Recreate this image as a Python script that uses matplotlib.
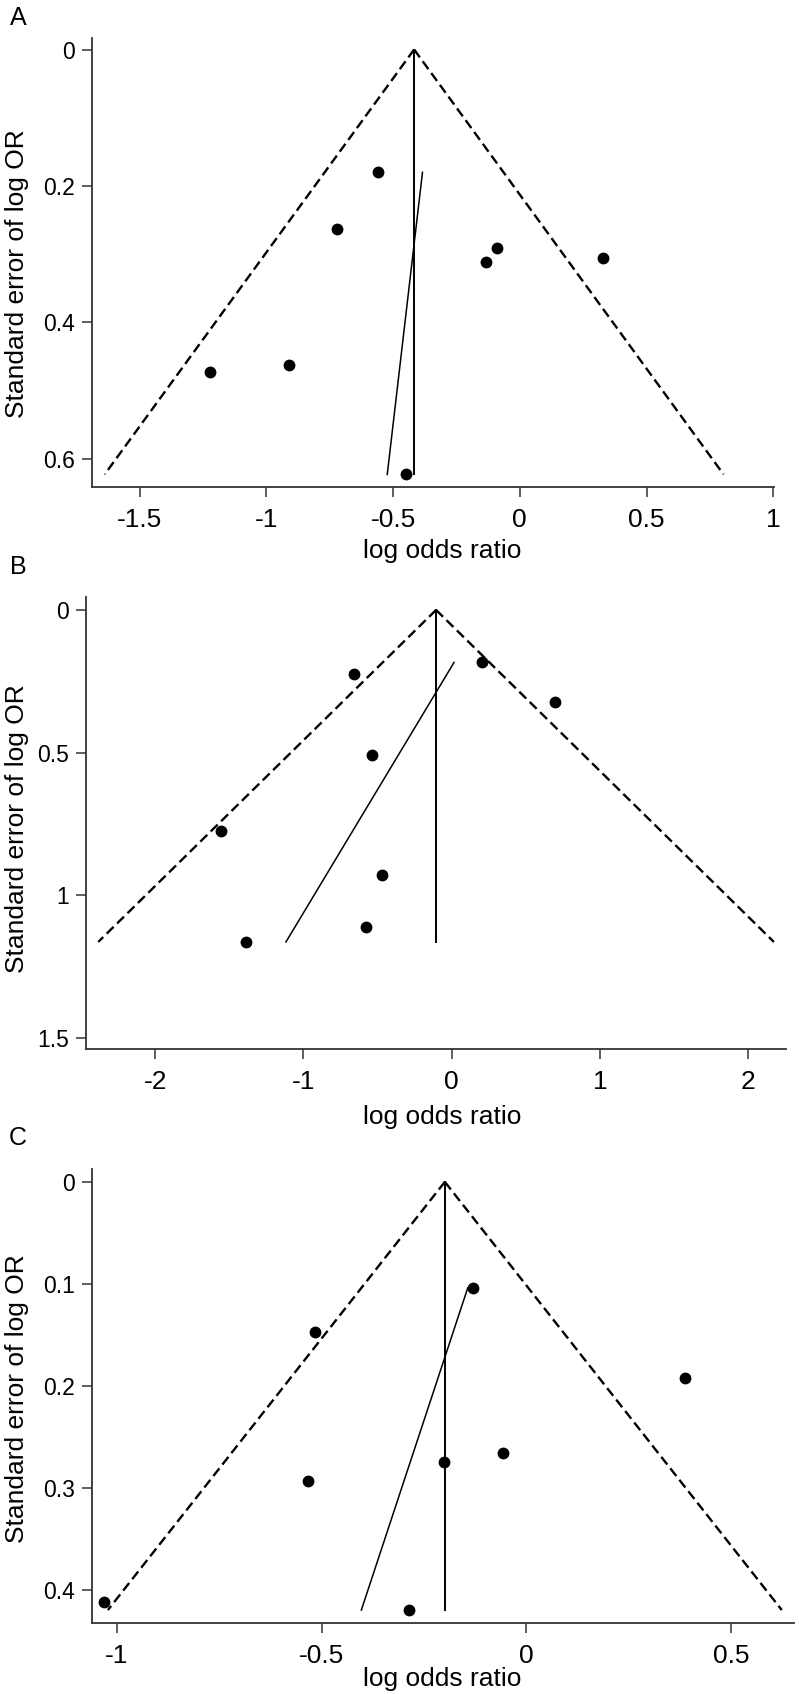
import matplotlib
matplotlib.use('Agg')
import matplotlib.pyplot as plt
from matplotlib.ticker import FormatStrFormatter

plt.rcParams['font.family'] = ['Liberation Sans', 'DejaVu Sans']
plt.rcParams['axes.unicode_minus'] = False
plt.rcParams['lines.scale_dashes'] = False

# panel A
a_log_or = [-0.558, -0.723, -0.091, -0.132, 0.328, -0.911, -1.224, -0.449]
a_se = [0.180, 0.263, 0.291, 0.311, 0.305, 0.463, 0.473, 0.623]
a_pooled = -0.417
a_se_max = 0.623
a_egger_x = [-0.523, -0.384]
a_egger_se = [0.623, 0.180]
a_xticks = [-1.5, -1, -0.5, 0, 0.5, 1]
a_yticks = [0, 0.2, 0.4, 0.6]

# panel B
b_log_or = [-0.662, 0.202, 0.697, -0.534, -1.554, -0.468, -0.579, -1.388]
b_se = [0.226, 0.184, 0.324, 0.509, 0.773, 0.927, 1.109, 1.163]
b_pooled = -0.105
b_se_max = 1.163
b_egger_x = [-1.118, 0.016]
b_egger_se = [1.163, 0.184]
b_xticks = [-2, -1, 0, 1, 2]
b_yticks = [0, 0.5, 1, 1.5]

# panel C
c_log_or = [-0.516, -0.130, 0.388, -0.057, -0.200, -0.533, -1.032, -0.287]
c_se = [0.147, 0.104, 0.192, 0.266, 0.275, 0.293, 0.412, 0.420]
c_pooled = -0.199
c_se_max = 0.420
c_egger_x = [-0.403, -0.143]
c_egger_se = [0.420, 0.104]
c_xticks = [-1, -0.5, 0, 0.5]
c_yticks = [0, 0.1, 0.2, 0.3, 0.4]

W, H = 799, 1694
fig = plt.figure(figsize=(W / 100, H / 100), dpi=100)
fig.patch.set_facecolor('white')

spine_col = '#333333'


def add_ax(left, right, top, bottom):
    return fig.add_axes([left / W, 1 - bottom / H, (right - left) / W, (bottom - top) / H])


def draw_panel(ax, x, se, pooled, se_max, eg_x, eg_se, xticks, yticks, xlim, ylim):
    half = 1.96 * se_max
    # pseudo 95% confidence limits
    ax.plot([pooled, pooled - half], [0, se_max], color='black', lw=1.7,
            linestyle=(0, (7, 3.5)), zorder=2)
    ax.plot([pooled, pooled + half], [0, se_max], color='black', lw=1.7,
            linestyle=(0, (7, 3.5)), zorder=2)
    ax.plot([pooled, pooled], [0, se_max], color='black', lw=1.4, zorder=2)
    ax.plot(eg_x, eg_se, color='black', lw=1.1, zorder=2)
    ax.plot(x, se, 'o', color='black', ms=7.5, zorder=3)

    ax.set_xlim(*xlim)
    ax.set_ylim(*ylim)
    ax.set_xticks(xticks)
    ax.set_yticks(yticks)
    ax.xaxis.set_major_formatter(FormatStrFormatter('%g'))
    ax.yaxis.set_major_formatter(FormatStrFormatter('%g'))
    for s in ['top', 'right']:
        ax.spines[s].set_visible(False)
    for s in ['left', 'bottom']:
        ax.spines[s].set_color(spine_col)
        ax.spines[s].set_linewidth(1.3)
    ax.tick_params(axis='both', direction='out', length=7, width=1.1,
                   color=spine_col, labelcolor='black')
    ax.tick_params(axis='x', pad=8, labelsize=19)
    ax.tick_params(axis='y', pad=5, labelsize=16.5)


ax_a = add_ax(92, 774, 37.7, 487)
draw_panel(ax_a, a_log_or, a_se, a_pooled, a_se_max, a_egger_x, a_egger_se,
           a_xticks, a_yticks, (-1.688, 1.003), (0.6414, -0.0173))

ax_b = add_ax(86, 786, 597.4, 1049)
draw_panel(ax_b, b_log_or, b_se, b_pooled, b_se_max, b_egger_x, b_egger_se,
           b_xticks, b_yticks, (-2.467, 2.256), (1.538, -0.044))

ax_c = add_ax(92, 794, 1168.5, 1623)
draw_panel(ax_c, c_log_or, c_se, c_pooled, c_se_max, c_egger_x, c_egger_se,
           c_xticks, c_yticks, (-1.061, 0.654), (0.4327, -0.0131))

# panel letters, axis titles
for lab, y in [('A', 18), ('B', 567), ('C', 1138)]:
    fig.text(18 / W, 1 - y / H, lab, ha='center', va='center', fontsize=18)

for y in [551, 1117, 1679]:
    fig.text(442 / W, 1 - y / H, 'log odds ratio', ha='center', va='center', fontsize=19)

for y in [274, 829, 1399]:
    fig.text(17 / W, 1 - y / H, 'Standard error of log OR', ha='center', va='center',
             rotation=90, fontsize=19)

fig.savefig('out.png', dpi=100, facecolor='white')
